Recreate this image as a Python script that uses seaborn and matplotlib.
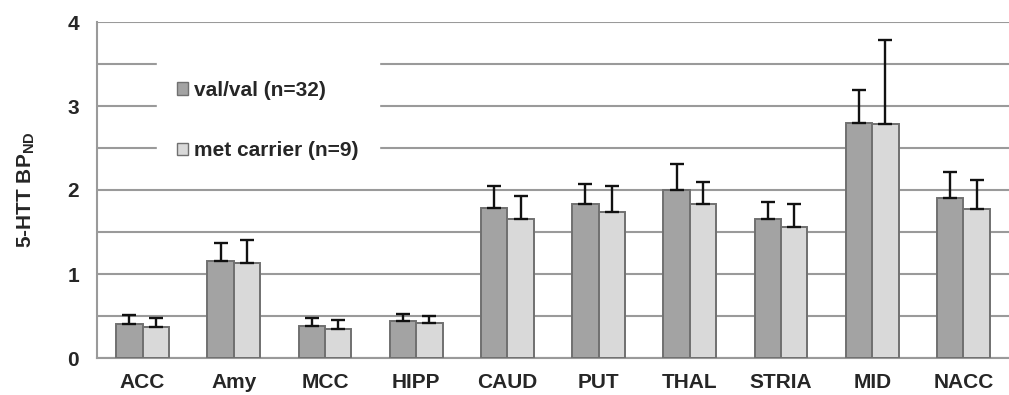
import numpy as np
import pandas as pd
import seaborn as sns
import matplotlib.pyplot as plt
from matplotlib.patches import Patch

# Data
regions = ["ACC", "Amy", "MCC", "HIPP", "CAUD", "PUT", "THAL", "STRIA", "MID", "NACC"]
groups = ["val/val (n=32)", "met carrier (n=9)"]
valval_mean = [0.40, 1.16, 0.385, 0.44, 1.79, 1.83, 2.00, 1.65, 2.80, 1.90]
valval_err = [0.11, 0.21, 0.095, 0.08, 0.26, 0.24, 0.31, 0.21, 0.39, 0.31]
met_mean = [0.37, 1.13, 0.345, 0.42, 1.66, 1.74, 1.83, 1.56, 2.79, 1.77]
met_err = [0.11, 0.27, 0.105, 0.08, 0.27, 0.31, 0.26, 0.27, 1.00, 0.35]

df = pd.DataFrame({
    "region": regions * 2,
    "group": [groups[0]] * len(regions) + [groups[1]] * len(regions),
    "bp": valval_mean + met_mean,
    "err": valval_err + met_err,
})

sns.set_style("white")
plt.rcParams["font.family"] = ["Liberation Sans", "DejaVu Sans"]
plt.rcParams["font.weight"] = "bold"
plt.rcParams["mathtext.fontset"] = "custom"
plt.rcParams["mathtext.bf"] = "Liberation Sans:bold"
plt.rcParams["mathtext.rm"] = "Liberation Sans:bold"

colors = ["#a3a3a3", "#d9d9d9"]
edge = "#707070"
grid_c = "#9a9a9a"

fig = plt.figure(figsize=(10.09, 3.95), dpi=100)
ax = fig.add_axes([97 / 1009, 1 - 358 / 395, 912 / 1009, 336 / 395])

sns.barplot(data=df, x="region", y="bp", hue="group", order=regions, hue_order=groups,
            palette=colors, width=0.58, edgecolor=edge, linewidth=1.4,
            errorbar=None, legend=False, ax=ax, zorder=3)

# one-sided error bars on top of each bar
for container, g in zip(ax.containers, groups):
    sub = df[df["group"] == g].set_index("region").loc[regions]
    xs = [p.get_x() + p.get_width() / 2 for p in container.patches]
    ax.errorbar(xs, sub["bp"], yerr=[np.zeros(len(xs)), sub["err"]], fmt="none",
                ecolor="#111111", elinewidth=1.7, capsize=5, capthick=1.7, zorder=4)

ax.set_ylim(0, 4)
ax.set_xlim(-0.5, len(regions) - 0.5)
ax.set_yticks([0, 1, 2, 3, 4])
ax.set_yticks(np.arange(0.5, 4, 1), minor=True)
ax.set_xticks(np.arange(-0.5, len(regions), 1), minor=True)
ax.grid(True, axis="y", which="both", color=grid_c, linewidth=1.5, zorder=0)
ax.set_axisbelow(True)

ax.tick_params(axis="x", which="major", length=0, pad=11, labelsize=15)
ax.tick_params(axis="x", which="minor", length=5, width=1.5, color=grid_c, direction="out")
ax.tick_params(axis="y", which="major", length=4, width=1.5, color=grid_c, labelsize=15, pad=9)
ax.tick_params(axis="y", which="minor", length=0)
for lab in ax.get_xticklabels() + ax.get_yticklabels():
    lab.set_fontweight("bold")

sns.despine(ax=ax, top=True, right=True)
for s in ["left", "bottom"]:
    ax.spines[s].set_color(grid_c)
    ax.spines[s].set_linewidth(1.5)

ax.set_xlabel("")
ax.set_ylabel(r"5-HTT BP$_{\mathbf{ND}}$", fontsize=15, fontweight="bold", labelpad=22)

handles = [Patch(facecolor=c, edgecolor=edge, linewidth=1.0) for c in colors]
leg = ax.legend(handles, groups, loc="upper left", bbox_to_anchor=(0.066, 0.884),
                frameon=True, fancybox=False, framealpha=1, facecolor="white",
                edgecolor="white", prop={"weight": "bold", "size": 15},
                handlelength=0.53, handleheight=0.53, handletextpad=0.3,
                labelspacing=2.0, borderpad=0.95, borderaxespad=0)
leg.set_zorder(5)

fig.savefig("out.png", dpi=100)
